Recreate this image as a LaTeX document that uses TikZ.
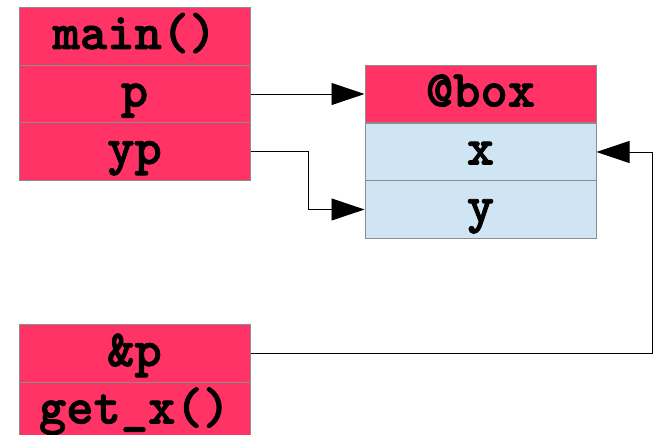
\documentclass[tikz,border=0pt]{standalone}
\usepackage{fontspec}
\setmonofont{lmmonolt10-bold.otf}[FakeBold=1.6]
\usetikzlibrary{arrows.meta}
\definecolor{frameRed}{HTML}{FF3366}
\definecolor{fieldBlue}{HTML}{CFE5F3}
\definecolor{edgeGray}{HTML}{8C8C8C}
\begin{document}
\begin{tikzpicture}[x=1pt,y=1pt,
  cell/.style={rectangle, draw=edgeGray, line width=1pt, inner sep=0pt,
    minimum width=231pt, minimum height=57.5pt,
    text height=30pt, text depth=5pt,
    font=\fontsize{52}{56}\selectfont\ttfamily},
  redcell/.style={cell, fill=frameRed},
  bluecell/.style={cell, fill=fieldBlue},
  arr/.style={draw=black, line width=0.9pt,
    -{Triangle[length=33pt,width=22pt]}}]
\useasboundingbox (0,0) rectangle (657,-435);
\clip (0,0) rectangle (657,-435);
% stack frame of main()
\node[redcell] (main) at (134.5,-36.5) {main()};
\node[redcell] (p)    at (134.5,-94)   {p};
\node[redcell] (yp)   at (134.5,-151.5) {yp};
% the boxed struct
\node[redcell]  (box) at (480.5,-94)   {@box};
\node[bluecell] (x)   at (480.5,-152)  {x};
\node[bluecell] (y)   at (480.5,-209.5) {y};
% stack frame of get_x()
\node[redcell] (ap)   at (134.5,-353.5) {\&p};
\node[redcell] (getx) at (134.5,-411)   {get\_x()};
% pointers
\coordinate (bend) at (308,-151.5);
\coordinate (turn) at (652,-353.5);
\draw[arr] (p.east) -- (box.west);
\draw[arr] (yp.east) -- (bend) |- (y.west);
\draw[arr] (ap.east) -- (turn) |- (x.east);
\end{tikzpicture}
\end{document}
